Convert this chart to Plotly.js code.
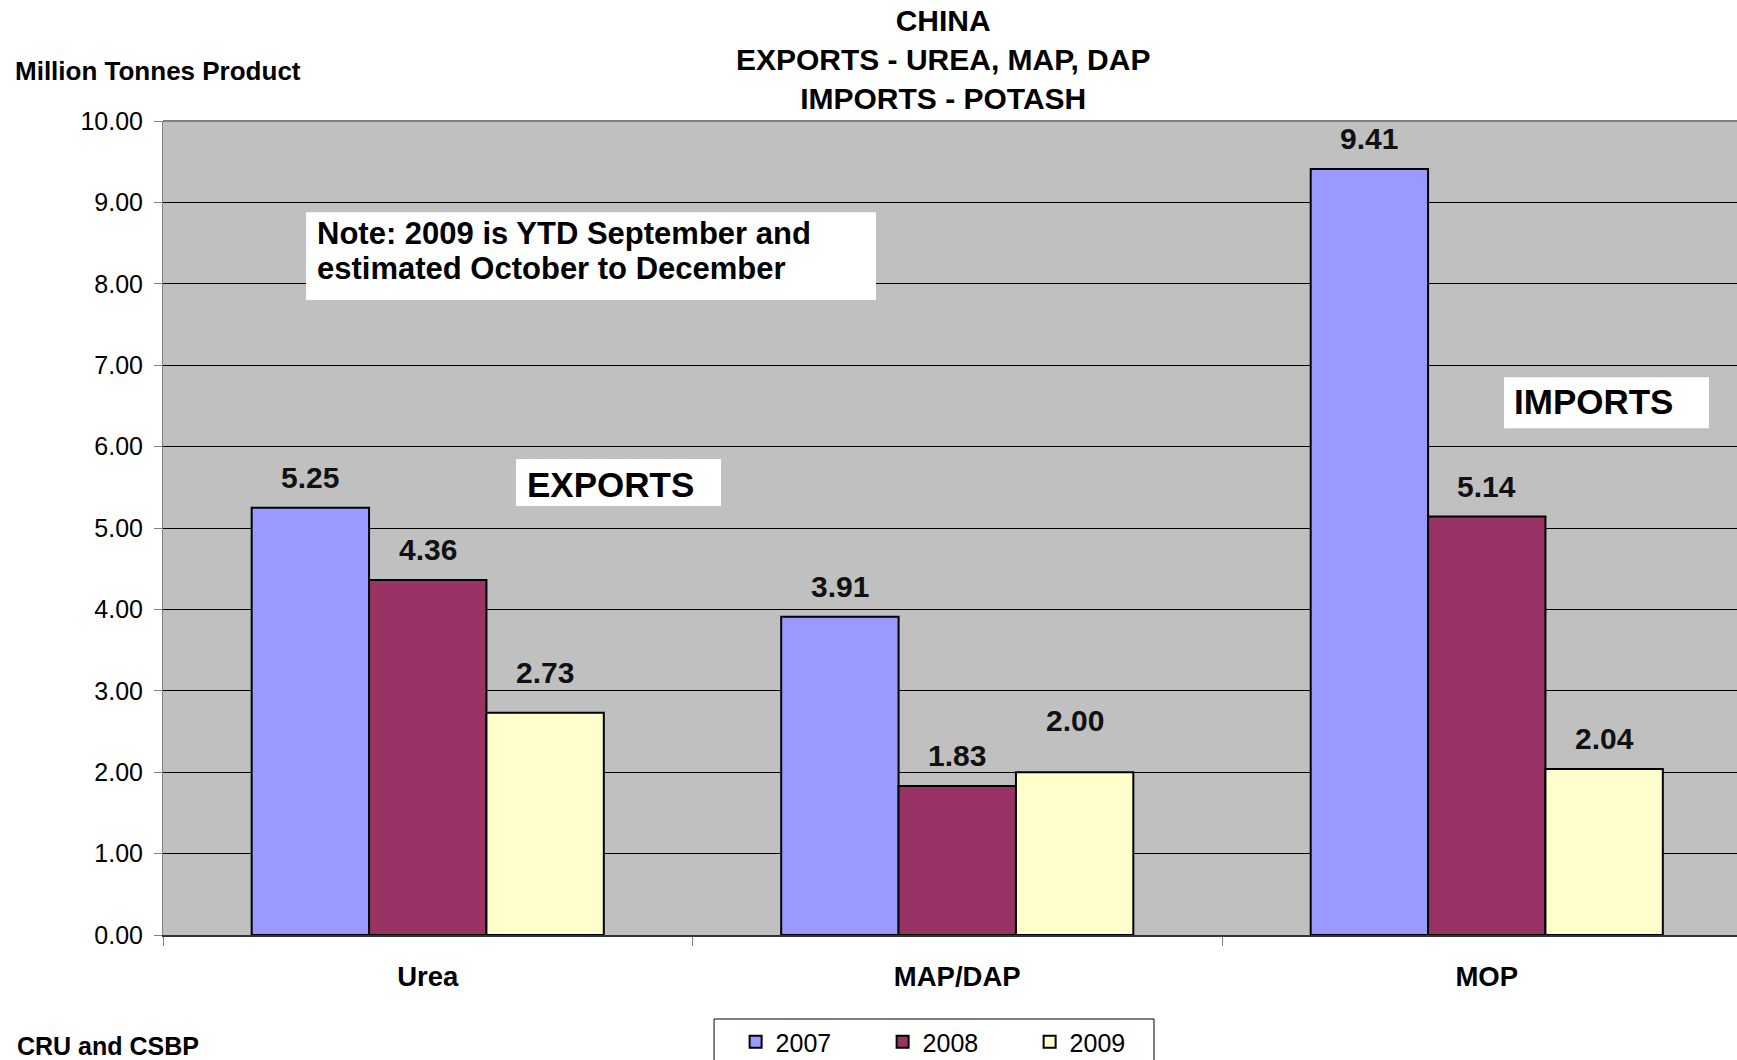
<!DOCTYPE html>
<html>
<head>
<meta charset="utf-8">
<script src="https://cdn.plot.ly/plotly-3.0.1.min.js"></script>
<style>
  html, body { margin: 0; padding: 0; background: #fff; }
  #chart { width: 1737px; height: 1060px; }
</style>
</head>
<body>
<div id="chart"></div>
<script>
// ---- data ----
const categories = ['Urea', 'MAP/DAP', 'MOP'];
const years = ['2007', '2008', '2009'];
const values2007 = [5.25, 3.91, 9.41];
const values2008 = [4.36, 1.83, 5.14];
const values2009 = [2.73, 2.00, 2.04];
const yTicks = [0, 1, 2, 3, 4, 5, 6, 7, 8, 9, 10];
const titleLines = ['CHINA', 'EXPORTS - UREA, MAP, DAP', 'IMPORTS - POTASH'];
const yAxisLabel = 'Million Tonnes Product';
const sourceNote = 'CRU and CSBP';
const noteLines = ['Note: 2009 is YTD September and', 'estimated October to December'];

// ---- style ----
const FONT = 'Liberation Sans, Arial, Helvetica, sans-serif';
const colors = ['#9999FF', '#993366', '#FFFFCC'];
const seriesValues = [values2007, values2008, values2009];
// extra vertical nudge (px) of some value labels, as placed in the original
const labelNudge = [[0, 0, 0], [0, 0, 0], [10, 21, 0]];
const BARGAP = 0.335;
const CAT_PX = 529.5;
const BAR_PX = CAT_PX * (1 - BARGAP) / 3;

const traces = years.map((yr, i) => ({
  type: 'bar',
  name: yr,
  x: categories,
  y: seriesValues[i],
  marker: { color: colors[i], line: { color: '#000000', width: 2 } },
  hoverinfo: 'x+y+name'
}));

const annotations = [];
seriesValues.forEach((vals, i) => {
  vals.forEach((v, k) => {
    annotations.push({
      x: categories[k], y: v, xref: 'x', yref: 'y',
      text: '<b>' + v.toFixed(2) + '</b>',
      showarrow: false, xanchor: 'center', yanchor: 'bottom',
      xshift: (i - 1) * BAR_PX, yshift: 12 + labelNudge[i][k],
      font: { family: FONT, size: 30, color: '#111111' }
    });
  });
});

// text boxes
annotations.push({
  xref: 'paper', yref: 'paper', x: 0.2300, y: 0.554,
  text: '<b>EXPORTS</b>', showarrow: false, xanchor: 'left', yanchor: 'middle',
  font: { family: FONT, size: 35, color: '#000000' }
});
annotations.push({
  xref: 'paper', yref: 'paper', x: 0.8570, y: 0.656,
  text: '<b>IMPORTS</b>', showarrow: false, xanchor: 'left', yanchor: 'middle',
  font: { family: FONT, size: 35, color: '#000000' }
});
annotations.push({
  xref: 'paper', yref: 'paper', x: 0.0963, y: 0.8624,
  text: '<b>' + noteLines[0] + '</b>', showarrow: false, xanchor: 'left', yanchor: 'middle',
  font: { family: FONT, size: 31, color: '#000000' }
});
annotations.push({
  xref: 'paper', yref: 'paper', x: 0.0963, y: 0.8182,
  text: '<b>' + noteLines[1] + '</b>', showarrow: false, xanchor: 'left', yanchor: 'middle',
  font: { family: FONT, size: 31, color: '#000000' }
});
annotations.push({
  xref: 'paper', yref: 'paper', x: -0.0955, y: 1.0614,
  text: '<b>' + yAxisLabel + '</b>', showarrow: false, xanchor: 'left', yanchor: 'middle',
  font: { family: FONT, size: 26, color: '#000000' }
});
annotations.push({
  xref: 'paper', yref: 'paper', x: -0.0940, y: -0.1365,
  text: '<b>' + sourceNote + '</b>', showarrow: false, xanchor: 'left', yanchor: 'middle',
  font: { family: FONT, size: 25, color: '#000000' }
});

const shapes = [
  { type: 'rect', xref: 'paper', yref: 'paper', x0: 0.2243, x1: 0.3545, y0: 0.527, y1: 0.5848,
    fillcolor: '#FFFFFF', line: { width: 0 }, layer: 'above' },
  { type: 'rect', xref: 'paper', yref: 'paper', x0: 0.8520, x1: 0.9822, y0: 0.6224, y1: 0.6851,
    fillcolor: '#FFFFFF', line: { width: 0 }, layer: 'above' },
  { type: 'rect', xref: 'paper', yref: 'paper', x0: 0.0909, x1: 0.4530, y0: 0.780, y1: 0.888,
    fillcolor: '#FFFFFF', line: { width: 0 }, layer: 'above' },
  { type: 'line', xref: 'paper', yref: 'paper', x0: 0, x1: 1, y0: 1, y1: 1,
    line: { color: '#808080', width: 2 }, layer: 'above' },
  // legend frame
  { type: 'rect', xref: 'paper', yref: 'paper', x0: 0.3501, x1: 0.6296, y0: -0.20, y1: -0.1032,
    fillcolor: 'rgba(0,0,0,0)', line: { color: '#000000', width: 1 }, layer: 'above' }
];

const layout = {
  width: 1737, height: 1060,
  margin: { l: 163, r: 0, t: 121, b: 125, autoexpand: false },
  paper_bgcolor: '#FFFFFF',
  plot_bgcolor: '#C0C0C0',
  font: { family: FONT, color: '#000000' },
  title: {
    text: titleLines.map(t => '<b>' + t + '</b>').join('<br>'),
    x: 0.543, xanchor: 'center', xref: 'container',
    y: 0.9704, yanchor: 'middle', yref: 'container',
    font: { family: FONT, size: 30, color: '#000000' }
  },
  barmode: 'group',
  bargap: BARGAP,
  bargroupgap: 0,
  showlegend: true,
  legend: {
    orientation: 'h', x: 0.3638, xanchor: 'left', y: -0.1032, yanchor: 'top',
    bgcolor: 'rgba(0,0,0,0)', borderwidth: 0,
    font: { family: FONT, size: 25, color: '#000000' },
    entrywidth: 102, entrywidthmode: 'pixels', traceorder: 'normal'
  },
  xaxis: {
    type: 'category',
    range: [-0.5, 2.4726],
    showgrid: false, zeroline: false,
    showline: true, linecolor: '#333333', linewidth: 2,
    ticks: 'outside', tickson: 'boundaries', ticklen: 9, tickwidth: 1, tickcolor: '#808080',
    ticklabelstandoff: 16,
    tickfont: { family: FONT, size: 27.5, color: '#000000' },
    tickvals: categories,
    ticktext: categories.map(c => '<b>' + c + '</b>'),
    fixedrange: true
  },
  yaxis: {
    range: [0, 10],
    tickvals: yTicks,
    tickformat: '.2f',
    showgrid: true, gridcolor: '#000000', gridwidth: 1,
    zeroline: false,
    showline: true, linecolor: '#808080', linewidth: 1,
    ticks: 'outside', ticklen: 8, tickwidth: 1, tickcolor: '#808080',
    ticklabelstandoff: 6,
    tickfont: { family: FONT, size: 25, color: '#000000' },
    fixedrange: true
  },
  annotations: annotations,
  shapes: shapes
};

Plotly.newPlot('chart', traces, layout, { displayModeBar: false });
</script>
</body>
</html>
